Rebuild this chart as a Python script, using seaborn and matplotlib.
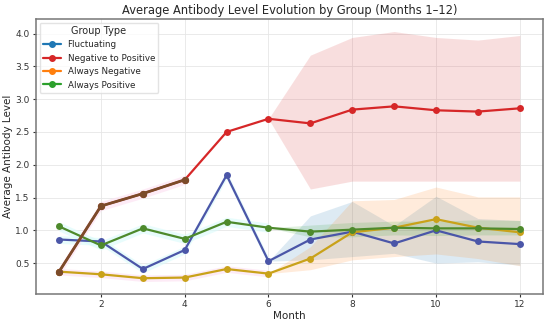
import numpy as np
import pandas as pd
import matplotlib
matplotlib.use("Agg")
import matplotlib.pyplot as plt
from matplotlib.lines import Line2D
import seaborn as sns

months = list(range(1, 13))
groups = ["Fluctuating", "Negative to Positive", "Always Negative", "Always Positive"]

fluctuating = [0.86, 0.83, 0.41, 0.70, 1.84, 0.53, 0.86, 0.98, 0.80, 1.00, 0.83, 0.79]
neg_to_pos = [0.37, 1.37, 1.56, 1.77, 2.50, 2.70, 2.63, 2.84, 2.89, 2.83, 2.81, 2.86]
always_neg = [0.37, 0.33, 0.27, 0.28, 0.41, 0.34, 0.57, 0.97, 1.04, 1.17, 1.04, 0.97]
always_pos = [1.06, 0.77, 1.03, 0.87, 1.13, 1.04, 0.98, 1.01, 1.04, 1.03, 1.03, 1.02]

# uncertainty bands for months 6-12
band_months = [6, 7, 8, 9, 10, 11, 12]
fluct_lo = [0.53, 0.55, 0.60, 0.65, 0.50, 0.52, 0.47]
fluct_hi = [0.53, 1.22, 1.44, 1.07, 1.52, 1.18, 1.15]
n2p_lo = [2.70, 1.63, 1.75, 1.75, 1.75, 1.75, 1.75]
n2p_hi = [2.70, 3.67, 3.94, 4.03, 3.94, 3.90, 3.97]
aneg_lo = [0.34, 0.40, 0.55, 0.60, 0.64, 0.57, 0.46]
aneg_hi = [0.34, 0.75, 1.45, 1.47, 1.66, 1.51, 1.51]
apos_lo = [1.04, 0.90, 0.90, 0.93, 0.92, 0.93, 0.93]
apos_hi = [1.04, 1.08, 1.12, 1.14, 1.14, 1.16, 1.15]

legend_colors = ["#1f77b4", "#d62728", "#ff7f0e", "#2ca02c"]
line_colors = ["#4b56a8", "#d62728", "#c9a21a", "#4e8a2c"]

df = pd.DataFrame({
    "Month": months * 4,
    "Level": fluctuating + neg_to_pos + always_neg + always_pos,
    "Group Type": sum([[g] * 12 for g in groups], []),
})

sns.set_style("whitegrid")
plt.rcParams.update({
    "font.family": ["DejaVu Sans"],
    "axes.edgecolor": "#777777",
    "axes.linewidth": 1.1,
    "grid.color": "#e6e6e6",
    "grid.linewidth": 0.6,
    "xtick.bottom": True,
    "ytick.left": True,
    "xtick.major.size": 2.5,
    "ytick.major.size": 2.5,
    "xtick.color": "#333333",
    "ytick.color": "#333333",
})

fig = plt.figure(figsize=(5.5, 3.23), dpi=100)
ax = fig.add_axes([0.0655, 0.0898, 0.9215, 0.8512])

# faint early bands
early = months[:6]
ax.fill_between(early, np.array(always_pos[:6]) - 0.07, np.array(always_pos[:6]) + 0.07,
                color="#d9fbfb", alpha=0.6, lw=0, zorder=1)
ax.fill_between(early, np.array(fluctuating[:6]) - 0.06, np.array(fluctuating[:6]) + 0.06,
                color="#d9fbfb", alpha=0.6, lw=0, zorder=1)
ax.fill_between(months[:4], np.array(neg_to_pos[:4]) - 0.07, np.array(neg_to_pos[:4]) + 0.07,
                color="#fde3f3", alpha=0.7, lw=0, zorder=1)
ax.fill_between(early, np.array(always_neg[:6]) - 0.05, np.array(always_neg[:6]) + 0.05,
                color="#fde3f3", alpha=0.7, lw=0, zorder=1)

# later bands
for lo, hi, c in [(fluct_lo, fluct_hi, legend_colors[0]),
                  (n2p_lo, n2p_hi, legend_colors[1]),
                  (aneg_lo, aneg_hi, legend_colors[2]),
                  (apos_lo, apos_hi, legend_colors[3])]:
    ax.fill_between(band_months, lo, hi, color=c, alpha=0.15, lw=0, zorder=1)

sns.lineplot(data=df, x="Month", y="Level", hue="Group Type", hue_order=groups,
             palette=line_colors, marker="o", markersize=5, markeredgewidth=0,
             linewidth=1.6, ax=ax, legend=False, zorder=3)
# early segment of the Negative to Positive line appears brown
sns.lineplot(x=months[:4], y=neg_to_pos[:4], color="#7b4b2a", marker="o", markersize=5.3,
             markeredgewidth=0, linewidth=2.0, ax=ax, zorder=4)

handles = [Line2D([0], [0], color=c, marker="o", markersize=4, linewidth=1.6) for c in legend_colors]
leg = ax.legend(handles, groups, title="Group Type", loc="upper left", fontsize=6.3,
                title_fontsize=7, frameon=True, borderaxespad=0.4, handlelength=2.0)
leg.get_frame().set_edgecolor("#dddddd")

ax.set_xticks([2, 4, 6, 8, 10, 12])
ax.set_yticks([0.5, 1.0, 1.5, 2.0, 2.5, 3.0, 3.5, 4.0])
ax.tick_params(labelsize=6.5, pad=2)
ax.set_xlabel("Month", fontsize=7.5, labelpad=1)
ax.set_ylabel("Average Antibody Level", fontsize=7.5, labelpad=2)
ax.set_title("Average Antibody Level Evolution by Group (Months 1\u201312)", fontsize=8.3, pad=4)
for s in ax.spines.values():
    s.set_visible(True)

fig.savefig("out.png", dpi=100)
